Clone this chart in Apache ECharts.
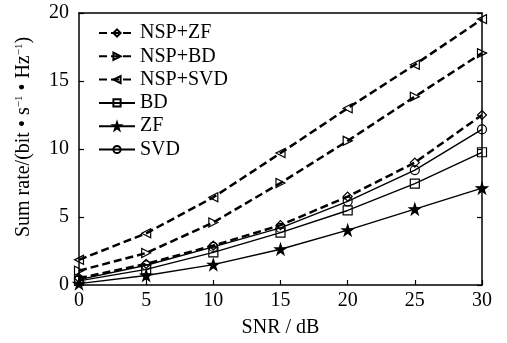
<!DOCTYPE html>
<html>
<head>
<meta charset="utf-8">
<script src="https://cdn.jsdelivr.net/npm/echarts@6/dist/echarts.min.js"></script>
<style>html,body{margin:0;padding:0;background:#fff}#c{width:507px;height:343px}</style>
</head>
<body>
<div id="c"></div>
<script>
const snr = [0, 5, 10, 15, 20, 25, 30];
const nspZF = [0.5, 1.55, 2.9, 4.4, 6.5, 9.0, 12.5];
const nspBD = [1.05, 2.35, 4.6, 7.5, 10.6, 13.85, 17.05];
const nspSVD = [1.85, 3.8, 6.45, 9.7, 13.0, 16.2, 19.55];
const bd = [0.3, 1.15, 2.4, 3.85, 5.48, 7.45, 9.76];
const zf = [0.1, 0.7, 1.5, 2.63, 4.03, 5.58, 7.12];
const svd = [0.4, 1.45, 2.8, 4.2, 6.15, 8.45, 11.45];
const seriesNames = ['NSP+ZF', 'NSP+BD', 'NSP+SVD', 'BD', 'ZF', 'SVD'];

const FONT = '"Liberation Serif", "DejaVu Serif", serif';
const STAR = 'path://M50,0 L61.8,36.2 L100,36.2 L69.1,58.6 L80.9,95.1 L50,72.6 L19.1,95.1 L30.9,58.6 L0,36.2 L38.2,36.2 Z';

function pairs(arr) { return snr.map((x, i) => [x, arr[i]]); }

function mk(name, data, dashed, symbol, rotate, filled) {
  return {
    name: name,
    type: 'line',
    data: pairs(data),
    symbol: symbol,
    symbolSize: symbol === STAR ? 11 : 9,
    symbolRotate: rotate,
    showAllSymbol: true,
    lineStyle: { color: '#000', width: dashed ? 2.5 : 1.4, type: dashed ? [8, 4] : 'solid' },
    itemStyle: { color: filled ? '#000' : 'rgba(255,255,255,0)', borderColor: '#000', borderWidth: 1.2 },
    emphasis: { disabled: true },
    animation: false
  };
}

const chart = echarts.init(document.getElementById('c'), null, { renderer: 'canvas' });
chart.setOption({
  backgroundColor: '#fff',
  animation: false,
  grid: { left: 79, right: 25, top: 13, bottom: 54 },
  legend: {
    orient: 'vertical',
    left: 93,
    top: 18,
    itemWidth: 36,
    itemHeight: 9,
    itemGap: 3.3,
    textStyle: { fontFamily: FONT, fontSize: 20, color: '#000', lineHeight: 20 },
    data: seriesNames
  },
  xAxis: [{
    type: 'value', min: 0, max: 30, interval: 5,
    name: 'SNR / dB', nameLocation: 'middle', nameGap: 33,
    nameTextStyle: { fontFamily: FONT, fontSize: 20, color: '#000' },
    axisLine: { lineStyle: { color: '#000', width: 1.5 } },
    axisTick: { inside: true, length: 5, lineStyle: { color: '#000', width: 1.2 } },
    axisLabel: { fontFamily: FONT, fontSize: 20, color: '#000', margin: 6 },
    splitLine: { show: false }
  }, {
    type: 'value', min: 0, max: 30, position: 'top',
    axisLine: { show: true, onZero: false, lineStyle: { color: '#000', width: 1.5 } },
    axisTick: { show: false }, axisLabel: { show: false }, splitLine: { show: false }
  }],
  yAxis: [{
    type: 'value', min: 0, max: 20, interval: 5,
    axisLine: { show: true, lineStyle: { color: '#000', width: 1.5 } },
    axisTick: { show: true, inside: true, length: 5, lineStyle: { color: '#000', width: 1.2 } },
    axisLabel: { fontFamily: FONT, fontSize: 20, color: '#000', margin: 10, padding: [0, 0, 6, 0] },
    splitLine: { show: false }
  }, {
    type: 'value', min: 0, max: 20, interval: 5, position: 'right',
    axisLine: { show: true, onZero: false, lineStyle: { color: '#000', width: 1.5 } },
    axisTick: { show: true, inside: true, length: 5, lineStyle: { color: '#000', width: 1.2 } },
    axisLabel: { show: false }, splitLine: { show: false }
  }],
  graphic: [{
    type: 'text',
    x: 24, y: 137,
    rotation: Math.PI / 2,
    style: {
      text: 'Sum rate/(bit • s{sup|−1} • Hz{sup|−1})',
      fontFamily: FONT, fontSize: 20, fill: '#000',
      textAlign: 'center', textVerticalAlign: 'middle',
      rich: { sup: { fontFamily: FONT, fontSize: 11, fill: '#000', verticalAlign: 'top', padding: [0, 0, 10, 0] } }
    }
  }],
  series: [
    mk('NSP+ZF', nspZF, true, 'diamond', 0, false),
    mk('NSP+BD', nspBD, true, 'triangle', -90, false),
    mk('NSP+SVD', nspSVD, true, 'triangle', 90, false),
    mk('BD', bd, false, 'rect', 0, false),
    mk('ZF', zf, false, STAR, 0, true),
    mk('SVD', svd, false, 'circle', 0, false)
  ]
});
</script>
</body>
</html>
